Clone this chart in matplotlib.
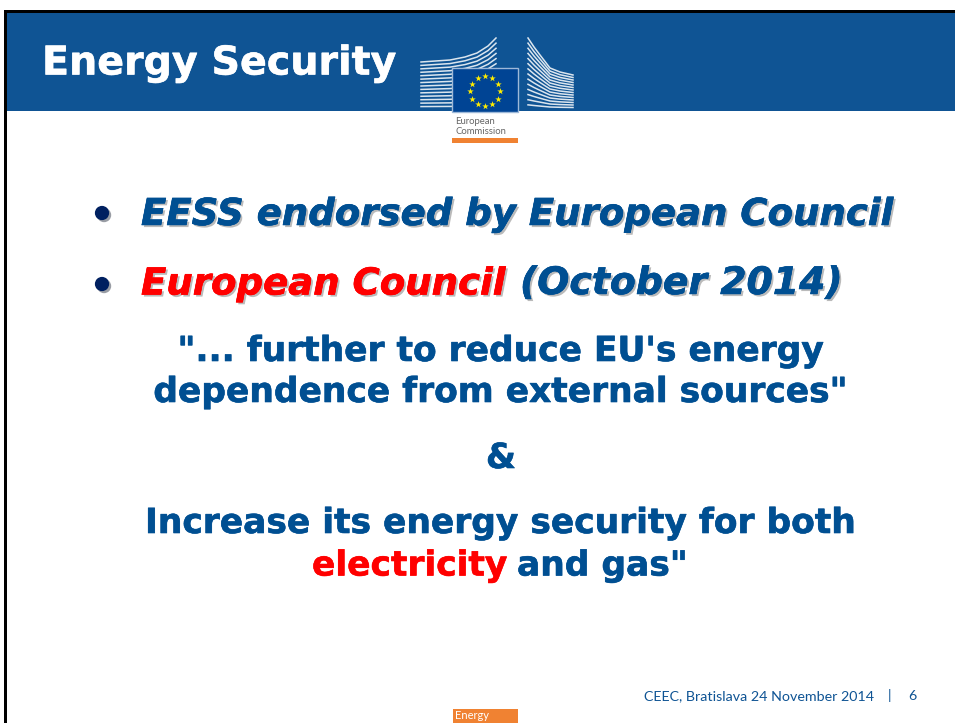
import numpy as np
import matplotlib
matplotlib.use('Agg')
import matplotlib.pyplot as plt
import matplotlib.patheffects as pe
from matplotlib.patches import Rectangle

BLUE = '#0F5494'
TEXT_BLUE = '#004F92'
RED = '#FF0000'
ORANGE = '#F08232'
NAVY = '#002060'

title = 'Energy Security'
bullets = ['EESS endorsed by European Council', 'European Council', '(October 2014)']
quote_lines = ['"... further to reduce EU\'s energy', 'dependence from external sources"']
footer = 'CEEC, Bratislava 24 November 2014'
page = '6'

# building roof lines
left_x = [421, 450, 465, 477, 488, 496]
left_roof = [62, 60, 57, 53, 46, 38]
right_x = [528, 534, 540, 550, 560, 573]
right_roof = [38, 47, 55, 68, 72, 75]
stripe_levels = np.arange(1, 15) / 14

fig = plt.figure(figsize=(9.55, 7.23), dpi=100)
ax = fig.add_axes([0, 0, 1, 1])
ax.set_xlim(0, 955)
ax.set_ylim(723, 0)
ax.axis('off')

# slide frame and header
ax.add_patch(Rectangle((4, 10), 951, 3, color='black', lw=0))
ax.add_patch(Rectangle((4, 10), 3, 713, color='black', lw=0))
ax.add_patch(Rectangle((7, 13), 948, 98, color=BLUE, lw=0))
ax.text(42, 63.5, title, color='white', fontsize=28.5, fontweight='bold', family='DejaVu Sans',
        va='center', path_effects=[pe.withStroke(linewidth=0.4, foreground='white')])

# logo: building stripes
for f in stripe_levels:
    ax.plot(left_x, [110 - (110 - r) * f for r in left_roof], color='white', lw=1.1, alpha=0.85)
    ax.plot(right_x, [110 - (110 - r) * f for r in right_roof], color='white', lw=1.1, alpha=0.85)
ax.add_patch(Rectangle((452, 68), 66, 44, facecolor='#004494', edgecolor='#9DB8D8',
                       lw=1, zorder=3))
angles = np.arange(12) * np.pi / 6
ax.scatter(485 + 14.7 * np.cos(angles), 91 + 15 * np.sin(angles), marker='*', s=24,
           color='#FFED00', lw=0, zorder=4)
ax.text(455, 121, 'European', color='#666666', fontsize=6.8, family='Lato',
        va='center', zorder=4)
ax.text(455, 132, 'Commission', color='#666666', fontsize=6.8, family='Lato',
        va='center', zorder=4)
ax.add_patch(Rectangle((452, 138), 66, 5, color=ORANGE, lw=0, zorder=4))

# body text
body = dict(fontsize=24.8, fontweight='bold', family='DejaVu Sans', va='center', zorder=5)


def shadowed(color):
    return [pe.withSimplePatchShadow(offset=(1.5, -1.5), shadow_rgbFace='#666666', alpha=0.45),
            pe.withStroke(linewidth=0.4, foreground=color)]


ital = dict(body, style='italic', fontsize=26.7)
ax.text(141, 214.5, bullets[0], color=TEXT_BLUE, path_effects=shadowed(TEXT_BLUE), **ital)
ax.text(141, 284, bullets[1], color=RED, path_effects=shadowed(RED), **ital)
oct_style = dict(ital, fontsize=27.2)
ax.text(520, 284, bullets[2], color=TEXT_BLUE, path_effects=shadowed(TEXT_BLUE), **oct_style)
ax.scatter([102, 102], [213, 284], s=105, color=NAVY, lw=0, zorder=5,
           path_effects=[pe.SimplePatchShadow(offset=(1.5, -1.5), alpha=0.4), pe.Normal()])

plain_blue = [pe.withStroke(linewidth=0.45, foreground=TEXT_BLUE)]
plain_red = [pe.withStroke(linewidth=0.45, foreground=RED)]
ax.text(501, 351.5, quote_lines[0], color=TEXT_BLUE, ha='center', path_effects=plain_blue, **body)
ax.text(501, 392.5, quote_lines[1], color=TEXT_BLUE, ha='center', path_effects=plain_blue, **body)
ax.text(501, 458.5, '&', color=TEXT_BLUE, ha='center', path_effects=plain_blue, **body)
ax.text(501, 523.5, 'Increase its energy security for both', color=TEXT_BLUE, ha='center',
        path_effects=plain_blue, **body)
ax.text(312, 566, 'electricity', color=RED, path_effects=plain_red, **body)
ax.text(517, 566, 'and gas"', color=TEXT_BLUE, path_effects=plain_blue, **body)

# footer
ax.text(644, 696, footer, color=BLUE, fontsize=10.3, family='Lato', va='center', zorder=5)
ax.text(889, 696, '|', color=BLUE, fontsize=10.3, family='Lato', va='center', ha='center', zorder=5)
ax.text(912, 696, page, color=BLUE, fontsize=10.3, family='Lato', va='center', ha='center', zorder=5)
ax.add_patch(Rectangle((453, 709), 65, 14, color=ORANGE, lw=0, zorder=4))
ax.text(455, 715.5, 'Energy', color='white', fontsize=8, family='Lato', va='center', zorder=5)

fig.savefig('out.png', dpi=100)
